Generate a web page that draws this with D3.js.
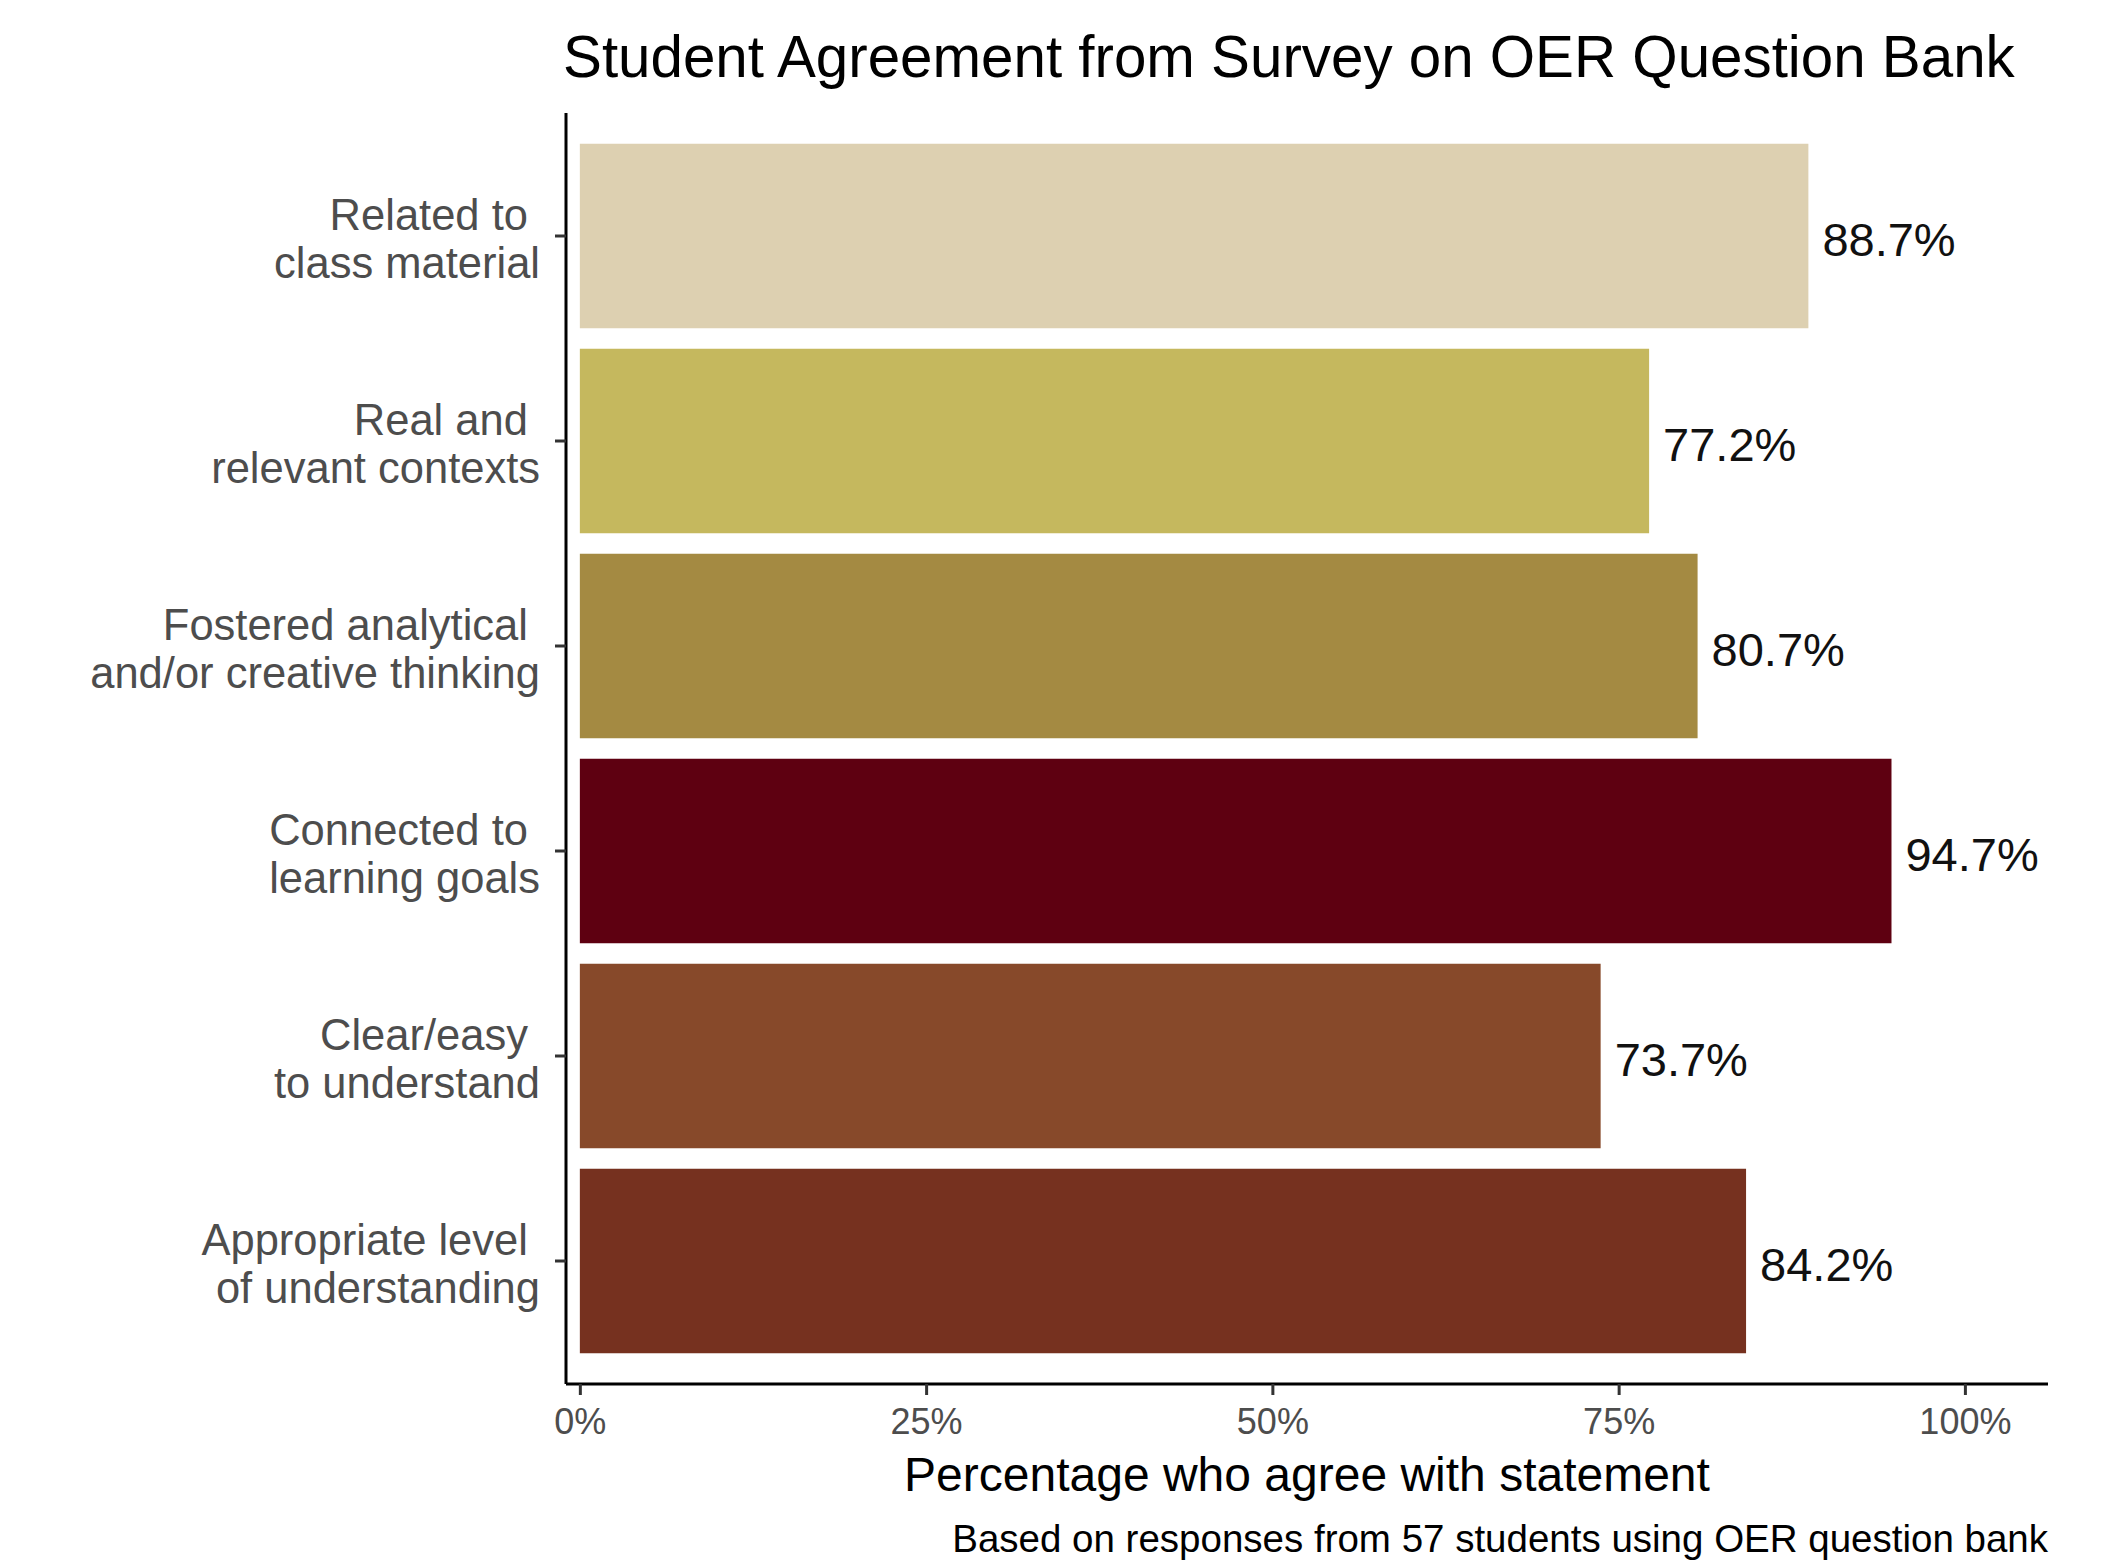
<!DOCTYPE html>
<html>
<head>
<meta charset="utf-8">
<script src="https://cdn.jsdelivr.net/npm/d3@7"></script>
<style>
  body { margin: 0; background: #fff; }
  text { font-family: "Liberation Sans", Arial, sans-serif; }
</style>
</head>
<body>
<svg id="chart" width="2103" height="1563"></svg>
<script>
// data
const statements = [
  ["Related to ", "class material"],
  ["Real and ", "relevant contexts"],
  ["Fostered analytical ", "and/or creative thinking"],
  ["Connected to ", "learning goals"],
  ["Clear/easy ", "to understand"],
  ["Appropriate level ", "of understanding"]
];
const agreePct = [0.887, 0.772, 0.807, 0.947, 0.737, 0.842];
const barColors = ["#DDD0B1", "#C5B85E", "#A48A42", "#5E0011", "#87492A", "#76311F"];
const xTicks = [0, 0.25, 0.5, 0.75, 1];

const svg = d3.select("#chart");
// panel bounds
const panel = { left: 566, right: 2048, top: 113, bottom: 1384 };

const x = d3.scaleLinear()
  .domain([-0.01, 1.06])
  .range([panel.left, panel.right]);

const y = d3.scaleBand()
  .domain(d3.range(statements.length))
  .range([panel.top, panel.bottom])
  .paddingInner(0.1)
  .paddingOuter(0.15);

// bars
svg.selectAll(".bar")
  .data(agreePct)
  .enter()
  .append("rect")
  .attr("class", "bar")
  .attr("x", x(0))
  .attr("y", (d, i) => y(i))
  .attr("width", d => x(d) - x(0))
  .attr("height", y.bandwidth())
  .style("fill", (d, i) => barColors[i]);

// value labels
svg.selectAll(".val")
  .data(agreePct)
  .enter()
  .append("text")
  .attr("class", "val")
  .attr("x", d => x(d) + 14)
  .attr("y", (d, i) => y(i) + y.bandwidth() / 2 + 20)
  .style("font-size", "47px")
  .style("fill", "#111")
  .text(d => (d * 100).toFixed(1) + "%");

// y axis
const yAxis = svg.append("g")
  .attr("transform", `translate(${panel.left},0)`)
  .call(d3.axisLeft(y).tickSize(11).tickFormat(""));
yAxis.select(".domain").attr("d", `M0,${panel.top}V${panel.bottom}`).attr("stroke", "#000").attr("stroke-width", 3);
yAxis.selectAll(".tick line").attr("stroke", "#333").attr("stroke-width", 3);

// multi-line category labels
const cat = svg.selectAll(".cat")
  .data(statements)
  .enter()
  .append("text")
  .attr("class", "cat")
  .attr("text-anchor", "end")
  .style("font-size", "43.5px")
  .style("fill", "#4d4d4d")
  .style("white-space", "pre");
cat.each(function (lines, i) {
  const c = y(i) + y.bandwidth() / 2;
  lines.forEach((ln, k) => {
    d3.select(this).append("tspan")
      .attr("x", panel.left - 26)
      .attr("y", c - 6 + k * 48)
      .text(ln);
  });
});

// x axis
const xAxis = svg.append("g")
  .attr("transform", `translate(0,${panel.bottom})`)
  .call(d3.axisBottom(x).tickValues(xTicks).tickSize(11).tickPadding(13).tickFormat(d3.format(".0%")));
xAxis.select(".domain").attr("d", `M${panel.left},0H${panel.right}`).attr("stroke", "#000").attr("stroke-width", 3);
xAxis.selectAll(".tick line").attr("stroke", "#333").attr("stroke-width", 3);
xAxis.selectAll(".tick text")
  .style("font-size", "36px")
  .style("fill", "#4d4d4d")
  .style("font-family", "Liberation Sans, Arial, sans-serif");

// axis title
svg.append("text")
  .attr("x", (panel.left + panel.right) / 2)
  .attr("y", 1491)
  .attr("text-anchor", "middle")
  .style("font-size", "48px")
  .style("fill", "#000")
  .text("Percentage who agree with statement");

// caption
svg.append("text")
  .attr("x", panel.right)
  .attr("y", 1552)
  .attr("text-anchor", "end")
  .style("font-size", "38.5px")
  .style("fill", "#000")
  .text("Based on responses from 57 students using OER question bank");

// title
svg.append("text")
  .attr("x", 563)
  .attr("y", 77)
  .style("font-size", "58.3px")
  .style("fill", "#000")
  .text("Student Agreement from Survey on OER Question Bank");
</script>
</body>
</html>
